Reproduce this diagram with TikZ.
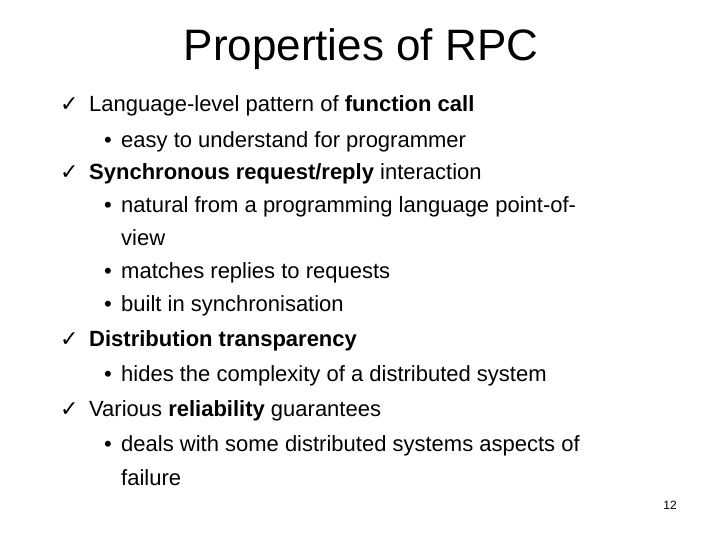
\documentclass[tikz,border=0pt]{standalone}
\usepackage{fontspec}
\setmainfont{Liberation Sans}
\newfontfamily\djvfont{DejaVu Sans}
\begin{document}
\begin{tikzpicture}[x=1pt,y=-1pt,
  txt/.style={anchor=base west,inner sep=0pt,font=\fontsize{22}{26}\selectfont},
  chk/.style={anchor=base west,inner sep=0pt,font=\djvfont\fontsize{22}{26}\selectfont},
  bul/.style={anchor=base west,inner sep=0pt,font=\fontsize{22}{26}\selectfont}]
\useasboundingbox (0,0) rectangle (720,540);
\node[anchor=base,inner sep=0pt,font=\fontsize{44}{52}\selectfont] (title) at (361,61) {Properties of RPC};
\foreach \y in {112,180,346,416} \node[chk] at (60,\y) {✓};
\foreach \y in {148,213,278,311,381,451} \node[bul] at (104,\y) {•};
\node[txt] (l1) at (89,112) {Language-level pattern of \textbf{function call}};
\node[txt] (l2) at (121,148) {easy to understand for programmer};
\node[txt] (l3) at (89,180) {\textbf{Synchronous request/reply} interaction};
\node[txt] (l4) at (121,213) {natural from a programming language point-of-};
\node[txt] (l5) at (121,245) {view};
\node[txt] (l6) at (121,278) {matches replies to requests};
\node[txt] (l7) at (121,311) {built in synchronisation};
\node[txt] (l8) at (89,346) {\textbf{Distribution transparency}};
\node[txt] (l9) at (121,381) {hides the complexity of a distributed system};
\node[txt] (l10) at (89,416) {Various \textbf{reliability} guarantees};
\node[txt] (l11) at (121,451) {deals with some distributed systems aspects of};
\node[txt] (l12) at (121,485) {failure};
\node[anchor=base east,inner sep=0pt,font=\fontsize{12}{14}\selectfont] (pg) at (677,509) {12};
\end{tikzpicture}
\end{document}
